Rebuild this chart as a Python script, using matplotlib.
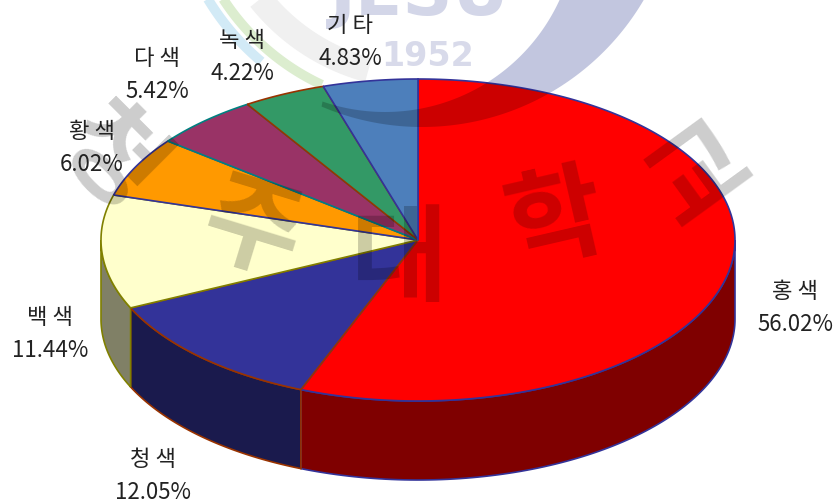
import numpy as np
import matplotlib
matplotlib.use("Agg")
import matplotlib.pyplot as plt
from matplotlib.patches import Polygon, Ellipse

plt.rcParams['font.family'] = ['Noto Sans CJK KR', 'DejaVu Sans']

# 시계 방향, 12시 위치에서 시작
names = ["홍색", "청색", "백색", "황색", "다색", "녹색", "기타"]
values = [56.02, 12.05, 11.44, 6.02, 5.42, 4.22, 4.83]
top_colors = ["#FF0000", "#333399", "#FFFFCC", "#FF9900", "#993366", "#339966", "#4D7FBB"]
side_colors = ["#7F0000", "#1A1A4D", "#808066", "#804D00", "#4D1A33", "#1A4D33", "#28405F"]
edge_colors = ["#333399", "#993300", "#808000", "#333399", "#008080", "#993300", "#333399"]
label_x = [795, 153, 50, 92, 157, 242, 350]
label_y = [308, 476, 334, 148, 75, 57, 42]

# 타원 형태
cx, cy = 418, 240
rx, ry = 317, 161
depth = 79

fig = plt.figure(figsize=(8.38, 5.04), dpi=100)
ax = fig.add_axes([0, 0, 1, 1])
ax.set_xlim(0, 838)
ax.set_ylim(504, 0)
ax.axis('off')


def rim(t, dy=0):
    t = np.radians(t)
    return np.column_stack([cx + rx * np.sin(t), cy - ry * np.cos(t) + dy])


def circle_arc(x0, y0, r, a0, a1):
    a = np.radians(np.linspace(a0, a1, 120))
    return np.column_stack([x0 + r * np.cos(a), y0 + r * np.sin(a)])


# 배경 워터마크 (파이 아래)
ax.plot(*circle_arc(422, -130, 207, 105, 155).T, color="#F0F0F0", lw=18, zorder=1, solid_capstyle='butt')
ax.plot(*circle_arc(422, -130, 250, 130, 155).T, color="#D2EAF6", lw=7, zorder=1, solid_capstyle='butt')
ax.plot(*circle_arc(422, -130, 237, 115, 155).T, color="#DCEDCF", lw=7, zorder=1, solid_capstyle='butt')
outer = circle_arc(422, -130, 257, -10, 113)
inner = circle_arc(385, -80, 192, -10, 109)
ring = np.vstack([outer, inner[::-1]])
ax.add_patch(Polygon(ring, closed=True, fc="#C2C6DF", ec='none', zorder=1))
ax.text(428, 56, "1952", color="#D8DAEA", fontsize=24, fontweight='bold', ha='center', va='center',
        family='DejaVu Sans', zorder=1)
ax.text(420, 15, "JESU", color="#D3D6E8", fontsize=50, fontweight='bold', ha='center', va='baseline',
        family='DejaVu Sans', zorder=1)

# 옆면 + 윗면
cum = np.concatenate([[0], np.cumsum(values)]) * 3.6
for i in range(len(values)):
    t0, t1 = cum[i], cum[i + 1]
    a0, a1 = max(t0, 90), min(t1, 270)
    if a1 > a0:
        t = np.linspace(a0, a1, 100)
        pts = np.vstack([rim(t), rim(t[::-1], depth)])
        ax.add_patch(Polygon(pts, closed=True, fc=side_colors[i], ec=edge_colors[i], lw=1.2, zorder=2))

for i in range(len(values)):
    t = np.linspace(cum[i], cum[i + 1], 200)
    pts = np.vstack([[cx, cy], rim(t)])
    ax.add_patch(Polygon(pts, closed=True, fc=top_colors[i], ec=edge_colors[i], lw=1.2, zorder=3))

# 파이 위로 비치는 워터마크
clip = Ellipse((cx, cy), 2 * rx, 2 * ry, fc='none', ec='none')
ax.add_patch(clip)
band = Polygon(ring, closed=True, fc='k', ec='none', alpha=0.2, zorder=4)
ax.add_patch(band)
band.set_clip_path(clip)

wm_chars = ["청", "주", "대", "학", "교"]
wm_x = [110, 252, 400, 556, 700]
wm_y = [160, 232, 262, 222, 175]
wm_rot = [-45, -17, 0, 13, 36]
for c, x, y, r in zip(wm_chars, wm_x, wm_y, wm_rot):
    ax.text(x, y, c, color='k', alpha=0.2, fontsize=76, fontweight='bold', ha='center', va='center',
            rotation=r, rotation_mode='anchor', zorder=5)

# 라벨
for n, v, x, y in zip(names, values, label_x, label_y):
    ax.text(x, y, f"{n[0]} {n[1]}\n{v:.2f}%", color="#222222", fontsize=16, fontweight='light',
            ha='center', va='center', linespacing=1.55, zorder=6)

fig.savefig("out.png", dpi=100)
